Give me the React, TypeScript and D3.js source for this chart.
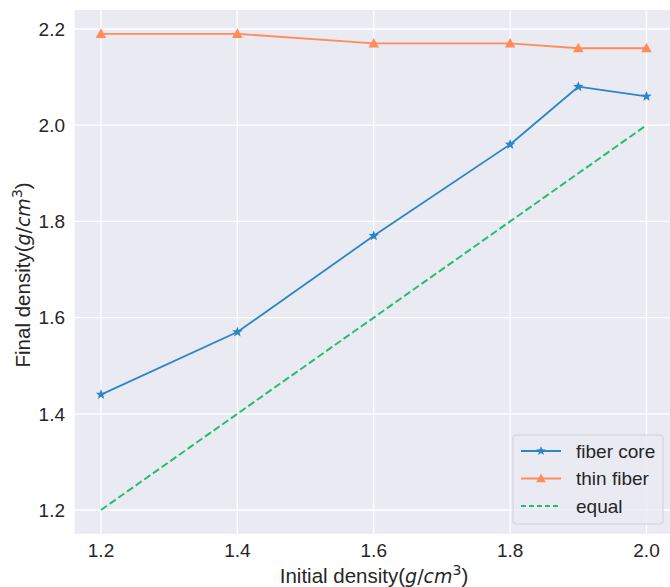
import React from "react";
import * as d3 from "d3";

const xValues = [1.2, 1.4, 1.6, 1.8, 1.9, 2.0];
const fiberCore = [1.44, 1.57, 1.77, 1.96, 2.08, 2.06];
const thinFiber = [2.19, 2.19, 2.17, 2.17, 2.16, 2.16];
const equalLine = [1.2, 1.4, 1.6, 1.8, 1.9, 2.0];
const xTicks = [1.2, 1.4, 1.6, 1.8, 2.0];
const yTicks = [1.2, 1.4, 1.6, 1.8, 2.0, 2.2];
const seriesNames = ["fiber core", "thin fiber", "equal"];

const W = 670, H = 587;
const FONT = "'Liberation Sans', Arial, sans-serif";
const MATH = "'DejaVu Sans', sans-serif";
const BLUE = "#2b86c7";
const ORANGE = "#ff8c5a";
const GREEN = "#22bf74";

function starPath(cx: number, cy: number, r: number) {
  const pts: string[] = [];
  for (let i = 0; i < 10; i++) {
    const a = -Math.PI / 2 + (i * Math.PI) / 5;
    const rr = i % 2 === 0 ? r : r * 0.42;
    pts.push(`${cx + rr * Math.cos(a)},${cy + rr * Math.sin(a)}`);
  }
  return "M" + pts.join("L") + "Z";
}
function triPath(cx: number, cy: number, r: number) {
  return `M${cx},${cy - r}L${cx + r * 0.95},${cy + r * 0.75}L${cx - r * 0.95},${cy + r * 0.75}Z`;
}

function Label({ base }: { base: string }) {
  return (
    <>
      {base}(
      <tspan fontFamily={MATH} fontStyle="italic" fontSize={19}>g</tspan>
      <tspan fontFamily={MATH} fontSize={19}>/</tspan>
      <tspan fontFamily={MATH} fontStyle="italic" fontSize={19}>cm</tspan>
      <tspan dy={-8} fontFamily={MATH} fontSize={14}>3</tspan>
      <tspan dy={8}>)</tspan>
    </>
  );
}

export default function App() {
  const x = d3.scaleLinear().domain([1.2, 2.0]).range([101, 646.5]);
  const y = d3.scaleLinear().domain([1.2, 2.2]).range([510, 29]);
  const left = x(1.16) + 1, right = x(2.04), top = y(2.2395), bottom = y(1.1505);
  const line = d3.line<[number, number]>().x((d) => x(d[0])).y((d) => y(d[1]));
  const pts = (vals: number[]) => xValues.map((v, i) => [v, vals[i]] as [number, number]);

  const legX = 513, legY = 435, legW = 150, legH = 89;
  const rows = [
    { name: seriesNames[0], color: BLUE, marker: "star", dash: undefined },
    { name: seriesNames[1], color: ORANGE, marker: "tri", dash: undefined },
    { name: seriesNames[2], color: GREEN, marker: null, dash: "5,3" },
  ];

  return (
    <svg width={W} height={H} style={{ position: "absolute", left: 0, top: 0, background: "#fff" }} fontFamily={FONT}>
      <defs>
        <clipPath id="clip">
          <rect x={left} y={top} width={right - left} height={bottom - top} />
        </clipPath>
      </defs>
      <rect x={left} y={top} width={right - left} height={bottom - top} fill="#eaeaf2" />
      {xTicks.map((t) => (
        <line key={"gx" + t} x1={x(t)} x2={x(t)} y1={top} y2={bottom} stroke="#fff" strokeWidth={1.3} />
      ))}
      {yTicks.map((t) => (
        <line key={"gy" + t} x1={left} x2={right} y1={y(t)} y2={y(t)} stroke="#fff" strokeWidth={1.3} />
      ))}
      <g clipPath="url(#clip)">
        <path d={line(pts(equalLine)) || ""} fill="none" stroke={GREEN} strokeWidth={2} strokeDasharray="7.4,3.2" />
        <path d={line(pts(fiberCore)) || ""} fill="none" stroke={BLUE} strokeWidth={1.8} />
        <path d={line(pts(thinFiber)) || ""} fill="none" stroke={ORANGE} strokeWidth={1.8} />
        {pts(fiberCore).map((p, i) => (
          <path key={"s" + i} d={starPath(x(p[0]), y(p[1]), 5.5)} fill={BLUE} />
        ))}
        {pts(thinFiber).map((p, i) => (
          <path key={"t" + i} d={triPath(x(p[0]), y(p[1]), 5.5)} fill={ORANGE} />
        ))}
      </g>
      {xTicks.map((t) => (
        <text key={"tx" + t} x={x(t)} y={557} textAnchor="middle" fontSize={19} fill="#262626">
          {t.toFixed(1)}
        </text>
      ))}
      {yTicks.map((t) => (
        <text key={"ty" + t} x={65} y={y(t) + 6.8} textAnchor="end" fontSize={19} fill="#262626">
          {t.toFixed(1)}
        </text>
      ))}
      <text x={374} y={583} textAnchor="middle" fontSize={20.5} fill="#262626">
        <Label base="Initial density" />
      </text>
      <text transform={`translate(30,${(top + bottom) / 2 + 3}) rotate(-90)`} textAnchor="middle" fontSize={20.5} fill="#262626">
        <Label base="Final density" />
      </text>
      <rect x={legX} y={legY} width={legW} height={legH} rx={3} fill="#eaeaf2" fillOpacity={0.8} stroke="#d0d0d8" strokeWidth={1} />
      {rows.map((r, i) => {
        const ry = 451 + i * 27.5;
        return (
          <g key={r.name}>
            <line x1={521} x2={561} y1={ry} y2={ry} stroke={r.color} strokeWidth={r.dash ? 2 : 1.8} strokeDasharray={r.dash} />
            {r.marker === "star" && <path d={starPath(541, ry, 5)} fill={r.color} />}
            {r.marker === "tri" && <path d={triPath(541, ry, 5)} fill={r.color} />}
            <text x={576} y={ry + 6.5} fontSize={19} fill="#262626">{r.name}</text>
          </g>
        );
      })}
    </svg>
  );
}
